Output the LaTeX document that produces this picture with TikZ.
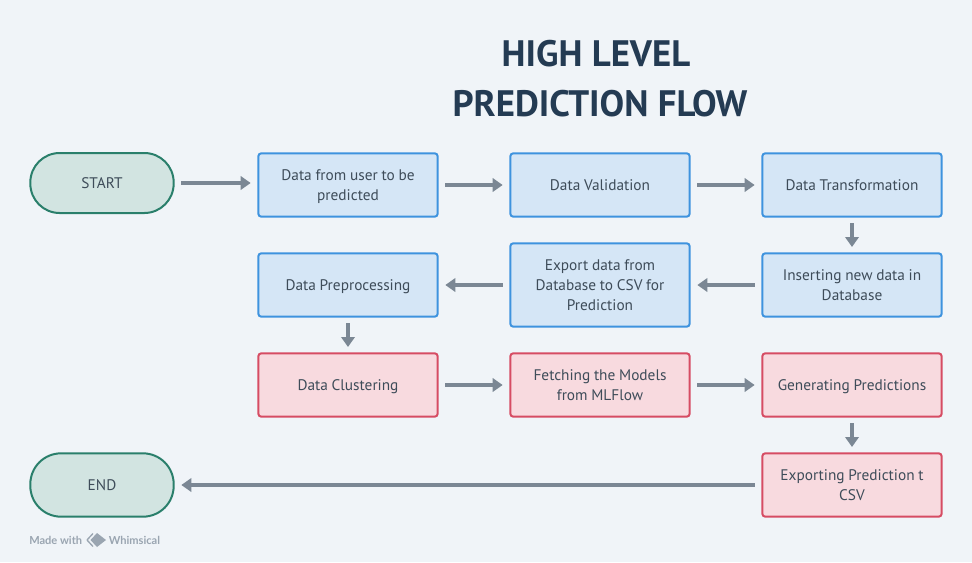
\documentclass[tikz,border=0pt]{standalone}
\usepackage{fontspec}
\usetikzlibrary{arrows.meta,calc}
\setmainfont{PT Sans}
\newfontfamily\logofont{Lato}
\definecolor{bgc}{HTML}{F0F4F8}
\definecolor{txtc}{HTML}{3E4C59}
\definecolor{titlec}{HTML}{243B53}
\definecolor{bluef}{HTML}{D5E6F6}
\definecolor{blued}{HTML}{3E93DE}
\definecolor{redf}{HTML}{F8DADF}
\definecolor{redd}{HTML}{D64C63}
\definecolor{greenf}{HTML}{D2E4E1}
\definecolor{greend}{HTML}{2A7F6B}
\definecolor{arrowc}{HTML}{7B8794}
\definecolor{logoc}{HTML}{9AA5B1}
\tikzset{
  x=0.75pt,y=-0.75pt,
  boxbase/.style={draw,line width=1.5pt,rounded corners=2.2pt,minimum width=134.5pt,align=center,text width=130pt,text=txtc,font=\fontsize{11.5}{15}\selectfont,inner sep=0pt,execute at begin node={\spaceskip=2.8pt\relax\rule{0pt}{10pt}},execute at end node={\rule[-2.5pt]{0pt}{0pt}}},
  bluebox/.style={boxbase,fill=bluef,draw=blued,minimum height=47.5pt},
  redbox/.style={boxbase,fill=redf,draw=redd,minimum height=47.5pt},
  pill/.style={boxbase,fill=greenf,draw=greend,rounded corners=22pt,minimum width=107.5pt,text width=100pt},
  flow/.style={draw=arrowc,line width=3pt,-{Triangle[length=7.5pt,width=10pt]},shorten >=5pt,shorten <=5pt},
  titletext/.style={text=titlec,font=\fontsize{27.6}{37.5}\bfseries\selectfont,align=center,inner sep=0pt},
  logotext/.style={text=logoc,font=\logofont\fontsize{8.3}{9}\bfseries\selectfont,inner sep=0pt,anchor=west}
}
\begin{document}
\begin{tikzpicture}
\useasboundingbox[fill=bgc] (0,0) rectangle (972,562);
\node[titletext] (title) at (600,79) {HIGH LEVEL\hspace*{6pt}\\PREDICTION FLOW};
\node[pill,minimum height=45pt] (start) at (102,183) {START};
\node[bluebox] (a1) at (348,185) {Data from user to be\\predicted};
\node[bluebox] (a2) at (600,185) {Data Validation};
\node[bluebox] (a3) at (852,185) {Data Transformation};
\node[bluebox] (b3) at (852,285) {Inserting new data in\\Database};
\node[bluebox,minimum height=62.5pt] (b2) at (600,285) {Export data from\\Database to CSV for\\Prediction};
\node[bluebox] (b1) at (348,285) {Data Preprocessing};
\node[redbox] (c1) at (348,385) {Data Clustering};
\node[redbox] (c2) at (600,385) {Fetching the Models\\from MLFlow};
\node[redbox] (c3) at (852,385) {Generating Predictions};
\node[redbox] (d3) at (852,485) {Exporting Prediction t\\CSV};
\node[pill,minimum height=47.5pt,rounded corners=23pt] (end) at (102,485) {END};
\draw[flow] (start.east) -- (start.east -| a1.west);
\draw[flow] (a1) -- (a2);
\draw[flow] (a2) -- (a3);
\draw[flow,shorten <=4pt,shorten >=4pt] (a3) -- (b3);
\draw[flow] (b3) -- (b2);
\draw[flow] (b2) -- (b1);
\draw[flow,shorten <=4pt,shorten >=4pt] (b1) -- (c1);
\draw[flow] (c1) -- (c2);
\draw[flow] (c2) -- (c3);
\draw[flow,shorten <=4pt,shorten >=4pt] (c3) -- (d3);
\draw[flow] (d3) -- (end);
\node[logotext] (made) at (29,540) {Made with};
\node[logotext] (whim) at (108.5,540) {Whimsical};
\draw[logoc,line width=1pt,line join=round] (93,533.5) -- (87,540) -- (93,546.5);
\fill[logoc] (97,533) -- (106,540) -- (97,547) -- (90.5,540) -- cycle;
\end{tikzpicture}
\end{document}
